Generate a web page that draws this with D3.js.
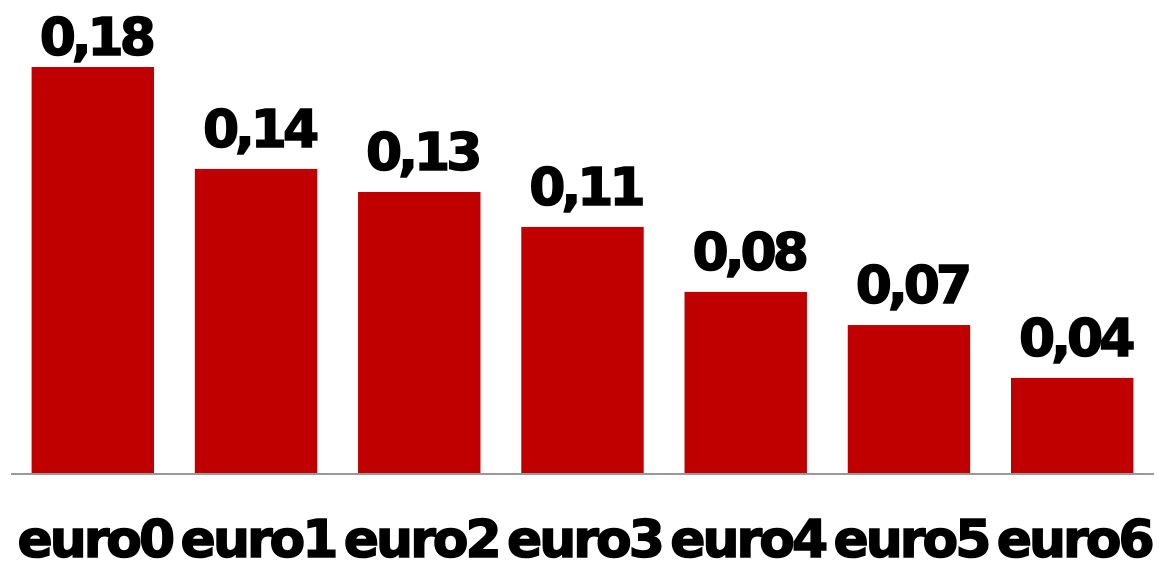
<!DOCTYPE html>
<html>
<head>
<meta charset="utf-8">
<script src="https://cdn.jsdelivr.net/npm/d3@7"></script>
<style>
  body { margin: 0; background: #fff; }
  svg text { font-family: "DejaVu Sans", sans-serif; font-weight: bold; }
</style>
</head>
<body>
<div id="chart"></div>
<script>
// chart data
const categories = ["euro0", "euro1", "euro2", "euro3", "euro4", "euro5", "euro6"];
const values = [0.1817, 0.1362, 0.1259, 0.1103, 0.0813, 0.0665, 0.0429];

const width = 1159;
const height = 561;
const baseline = 474;

const locale = d3.formatLocale({ decimal: ",", thousands: ".", grouping: [3], currency: ["", " €"] });
const fmt = locale.format(".2f");

const svg = d3.select("#chart")
  .append("svg")
  .attr("width", width)
  .attr("height", height);

const x = d3.scaleBand()
  .domain(categories)
  .range([12, 1153])
  .paddingInner(0.25)
  .paddingOuter(0.12);

const y = d3.scaleLinear()
  .domain([0, 0.2])
  .range([baseline, baseline - 448]);

const data = categories.map((c, i) => ({ name: c, value: values[i] }));

svg.selectAll("rect.bar")
  .data(data)
  .join("rect")
  .attr("class", "bar")
  .attr("x", (d) => x(d.name))
  .attr("y", (d) => y(d.value))
  .attr("width", x.bandwidth())
  .attr("height", (d) => y(0) - y(d.value))
  .attr("fill", "#C00000");

// value labels, kept inside the top edge
svg.selectAll("text.value")
  .data(data)
  .join("text")
  .attr("class", "value")
  .attr("x", (d) => x(d.name) + x.bandwidth() / 2 + 3)
  .attr("y", (d) => Math.max(y(d.value) - 22, 55))
  .attr("text-anchor", "middle")
  .attr("fill", "#000")
  .attr("stroke", "#000")
  .attr("stroke-width", 1.5)
  .style("font-size", "52px")
  .style("letter-spacing", "-4px")
  .text((d) => fmt(d.value));

// x axis
const axis = svg.append("g")
  .attr("transform", `translate(0, ${baseline})`)
  .call(d3.axisBottom(x).tickSize(0).tickPadding(46));

axis.select(".domain")
  .attr("d", "M11,0H1154")
  .attr("stroke", "#999")
  .attr("stroke-width", 2);

axis.selectAll(".tick text")
  .attr("fill", "#000")
  .attr("stroke", "#000")
  .attr("stroke-width", 1.5)
  .attr("dy", "0.71em")
  .attr("dx", "2")
  .style("font-family", "DejaVu Sans, sans-serif")
  .style("font-weight", "bold")
  .style("font-size", "52px")
  .style("letter-spacing", "-3px");
</script>
</body>
</html>
